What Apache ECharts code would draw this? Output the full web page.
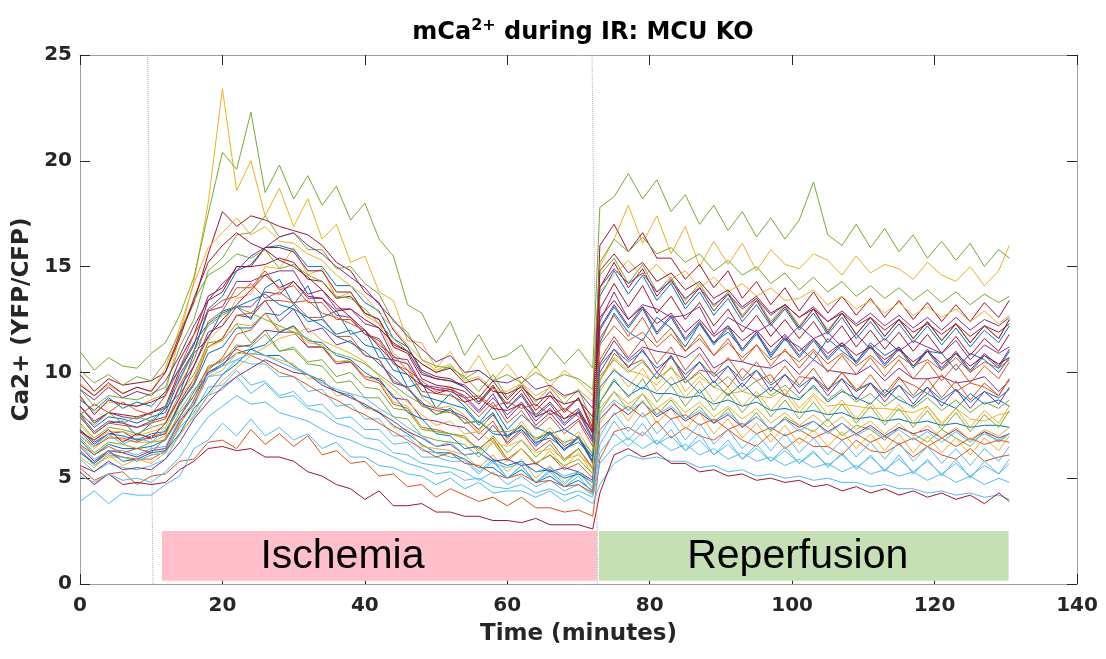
<!DOCTYPE html>
<html>
<head>
<meta charset="utf-8">
<script src="https://cdn.jsdelivr.net/npm/echarts@6/dist/echarts.min.js"></script>
<style>
html,body{margin:0;padding:0;background:#fff;}
#chart{width:1106px;height:659px;}
</style>
</head>
<body>
<div id="chart"></div>
<script>
// time points (minutes)
const time = [0,2,4,6,8,10,12,14,16,18,20,22,24,26,28,30,32,34,36,38,40,42,44,46,48,50,52,54,56,58,60,62,64,66,68,70,72,
  73,75,77,79,81,83,85,87,89,91,93,95,97,99,101,103,105,107,109,111,113,115,117,119,121,123,125,127,129,130.5];

const xTicks = [0,20,40,60,80,100,120,140];
const yTicks = [0,5,10,15,20,25];

// traces (Ca2+ YFP/CFP)
const trace01 = [7.9,7.1,7.6,7.7,7.0,7.6,8.3,9.0,10.9,11.6,12.9,13.1,12.5,14.0,14.4,13.2,14.1,12.6,12.9,11.8,12.0,10.7,10.6,9.3,9.5,8.3,9.0,8.4,7.6,8.4,7.3,8.0,7.4,7.1,7.3,6.9,6.0,
  11.4,12.8,11.9,11.5,12.6,12.1,11.2,12.3,11.4,11.9,11.1,11.9,10.7,11.6,11.2,10.6,11.6,11.0,10.5,11.4,10.8,11.2,10.3,11.0,10.9,10.1,10.9,10.6,10.0,10.7];
const trace02 = [5.5,4.9,5.2,5.3,4.7,5.1,5.2,5.8,5.9,6.7,6.8,6.4,7.3,6.6,7.1,6.5,7.0,6.1,6.3,5.7,5.8,5.1,5.2,4.6,4.7,4.1,4.5,4.2,3.9,4.1,3.7,4.1,3.6,3.6,3.4,3.5,3.2,
  5.9,7.2,7.4,7.0,7.7,6.9,7.4,7.0,6.8,7.3,6.8,6.5,7.1,6.4,6.9,6.5,6.5,6.1,6.8,6.3,6.2,6.6,6.0,6.5,6.1,5.9,6.4,5.8,6.0,6.1];
const trace03 = [8.8,8.1,8.6,8.5,8.4,8.7,9.0,11.8,14.3,18.0,23.4,18.6,20.0,17.4,18.7,16.9,18.2,16.3,17.0,15.2,15.5,13.8,13.4,11.5,11.4,10.2,11.0,9.8,10.8,9.6,10.4,9.5,10.3,9.3,10.1,9.6,8.9,
  15.0,16.3,17.9,16.1,17.4,15.6,16.9,15.0,16.2,15.1,16.1,14.8,15.8,15.1,14.9,15.6,15.3,14.6,15.5,14.7,15.1,14.9,14.4,15.2,14.6,14.3,15.0,14.1,14.8,16.0];
const trace04 = [7.3,6.7,7.1,7.2,6.8,6.9,7.1,8.6,9.7,11.2,11.6,12.7,12.6,13.4,12.4,13.0,11.9,12.1,11.3,11.5,10.8,10.6,9.5,9.3,8.5,8.3,8.2,7.9,7.3,8.0,7.0,7.5,6.8,7.2,6.5,6.9,5.7,
  10.4,11.5,10.6,11.2,11.0,10.9,10.7,11.2,10.2,10.6,10.5,10.3,10.2,10.6,9.9,10.6,10.1,10.0,9.9,10.3,9.6,10.2,9.7,9.7,9.8,9.5,9.6,9.8,9.1,9.6];
const trace05 = [11.0,10.1,10.7,10.3,10.2,10.9,11.4,12.7,14.5,17.5,20.4,19.6,22.3,18.5,19.8,18.2,19.3,17.9,18.8,17.2,18.0,16.3,15.5,13.2,12.8,11.4,12.4,10.8,11.8,10.6,10.8,11.3,10.2,11.2,10.4,11.1,10.2,
  17.8,18.3,19.4,18.2,19.1,17.6,18.4,17.0,17.9,16.7,17.6,16.4,17.3,16.3,17.2,19.0,16.5,16.0,17.0,15.9,16.8,15.7,16.5,15.4,16.2,15.3,16.1,15.0,15.8,15.4];
const trace06 = [3.9,4.4,3.8,4.3,4.2,4.2,4.7,5.1,6.4,6.8,7.6,7.0,7.8,7.0,7.4,6.8,7.1,6.4,6.7,6.0,6.0,5.6,5.5,5.2,5.1,4.7,5.0,4.5,4.8,4.3,4.4,4.4,4.1,4.4,3.9,4.2,3.8,
  4.7,5.7,6.1,5.9,6.0,5.8,5.8,5.5,5.6,5.3,5.4,5.1,5.2,5.0,5.1,4.9,5.0,4.8,4.8,4.6,4.7,4.5,4.5,4.3,4.4,4.2,4.3,4.1,4.2,4.0];
const trace07 = [5.3,4.7,5.2,4.7,4.8,4.7,4.8,5.4,5.8,6.4,6.5,6.3,6.4,6.0,6.0,5.8,5.3,5.1,4.7,4.5,4.0,4.4,3.7,3.7,3.8,3.4,3.4,3.2,3.2,3.0,3.0,2.9,3.1,2.8,2.8,2.8,2.6,
  4.3,6.1,6.4,6.0,6.2,5.7,5.7,5.3,5.4,5.1,5.2,4.9,5.0,4.8,4.9,4.6,4.7,4.4,4.6,4.3,4.5,4.2,4.4,4.1,4.3,4.0,4.2,3.8,4.3,3.9];
const trace08 = [6.8,6.1,6.6,6.4,6.4,6.5,6.8,7.9,8.9,10.0,10.4,10.9,11.1,10.8,10.8,10.3,9.9,9.6,9.1,8.9,8.4,8.1,7.5,7.1,6.6,6.2,6.2,5.9,5.5,5.5,5.0,5.4,4.8,5.1,4.6,4.9,4.4,
  8.6,9.6,8.9,9.3,9.0,9.0,8.8,8.9,8.5,8.7,8.4,8.6,8.2,8.3,8.1,8.2,8.0,8.1,7.8,7.9,7.7,7.8,7.6,7.7,7.5,7.6,7.4,7.5,7.5,7.4];
const trace09 = [6.3,5.7,6.2,6.0,5.9,5.9,6.3,7.5,8.7,10.1,10.7,11.8,12.0,12.8,11.9,12.2,11.2,11.2,10.5,10.5,9.7,9.5,8.5,8.3,7.4,7.3,7.1,6.9,6.4,6.9,5.9,6.4,5.7,6.1,5.4,5.7,5.0,
  9.6,10.9,10.3,10.6,9.7,10.8,9.5,10.1,10.0,9.3,10.2,9.6,9.9,8.9,9.8,9.7,9.1,10.0,9.2,9.5,8.8,9.7,9.4,9.0,9.9,9.1,9.5,9.3,8.9,9.7];
const trace10 = [7.0,6.4,7.0,6.8,6.7,6.7,7.0,8.4,9.5,11.5,12.2,13.5,13.7,15.0,14.9,15.9,14.6,14.9,13.5,13.8,12.7,12.3,10.9,10.4,8.8,8.3,8.4,8.0,7.2,8.1,6.8,7.7,6.8,7.4,6.6,7.2,6.1,
  9.6,10.7,10.1,9.9,9.4,10.3,9.1,9.8,9.3,9.0,9.1,8.9,8.8,9.2,8.3,9.0,8.4,8.5,8.4,8.3,8.3,8.2,8.1,8.4,7.6,8.3,7.8,7.7,8.0,8.1];
const trace11 = [8.4,7.7,8.1,7.9,7.8,8.1,8.3,9.9,11.0,12.9,13.1,14.3,14.3,14.6,14.8,14.8,13.7,13.9,13.0,13.0,12.3,12.1,10.7,10.6,9.4,9.3,9.2,8.9,8.2,9.0,7.8,8.5,7.5,8.1,7.3,7.8,6.7,
  12.4,13.8,12.5,13.2,13.0,12.6,12.7,13.1,11.8,12.6,12.2,11.9,12.3,11.5,12.2,11.6,11.9,11.2,11.8,11.1,11.6,11.0,11.5,11.2,10.9,11.5,10.6,11.3,10.9,11.2];
const trace12 = [7.6,6.9,7.4,7.3,7.1,7.4,7.6,9.0,9.9,11.4,11.5,12.3,11.4,12.0,11.0,11.1,10.4,10.3,9.5,9.6,8.8,8.8,7.9,7.8,7.0,6.8,6.7,6.6,6.0,6.7,5.8,6.4,5.7,6.1,5.6,5.9,5.2,
  8.1,9.1,8.2,9.0,8.0,8.7,7.8,8.4,7.6,8.3,7.4,8.1,7.2,7.9,7.5,7.2,7.8,7.0,7.5,7.3,6.8,7.4,7.1,6.7,7.3,6.9,6.5,7.2,6.7,7.1];
const trace13 = [5.9,5.3,5.7,5.5,5.4,5.6,5.9,7.1,7.9,8.9,9.2,9.8,9.0,9.5,8.8,8.9,8.3,8.1,7.6,7.4,6.9,6.8,6.2,6.1,5.7,5.6,5.5,5.3,4.9,5.3,4.7,5.1,4.6,4.9,4.4,4.7,4.2,
  6.2,7.1,6.5,7.2,6.6,7.0,6.3,6.8,6.1,6.6,5.9,6.4,5.8,6.3,5.7,6.2,5.6,6.1,5.5,6.0,5.4,5.9,5.3,5.8,5.2,5.7,5.1,5.6,5.2,5.7];
const trace14 = [9.9,9.1,9.7,9.4,9.5,9.6,10.0,11.8,13.3,15.6,17.6,16.9,17.4,17.2,16.9,16.7,16.5,16.0,15.2,14.8,13.8,13.3,12.0,11.2,10.1,9.8,9.7,9.3,8.6,9.4,8.3,9.0,8.0,8.6,7.8,8.3,7.1,
  16.0,17.0,15.7,16.6,15.4,15.4,14.4,15.1,14.0,14.8,13.5,14.3,13.2,14.0,12.9,13.8,12.8,13.6,12.7,13.5,12.6,13.4,12.5,13.3,12.4,13.2,12.4,13.3,12.6,13.4];
const trace15 = [8.1,7.4,7.9,7.8,7.6,7.9,8.1,9.7,11.0,13.0,13.6,14.8,15.1,15.9,16.0,15.8,15.0,15.0,14.1,14.1,13.3,12.9,11.6,11.2,10.0,9.7,9.6,9.3,8.6,9.3,8.3,8.9,7.9,8.5,7.6,8.2,6.9,
  13.6,14.8,13.7,14.6,13.4,14.2,13.0,13.8,12.7,13.5,12.4,13.2,12.2,13.0,12.0,12.8,11.8,12.6,11.6,12.4,11.5,12.3,11.4,12.2,11.3,12.1,11.2,12.0,11.4,12.2];
const trace16 = [7.2,6.5,6.9,6.9,6.7,7.0,7.1,8.5,9.5,11.2,11.6,12.7,12.8,13.4,13.4,13.3,12.6,12.6,11.7,11.7,10.8,10.6,9.6,9.3,8.4,8.2,8.1,7.8,7.1,7.7,6.6,7.2,6.3,6.8,5.9,6.4,5.5,
  10.6,11.7,10.7,11.6,10.4,11.2,10.1,10.9,9.9,10.7,9.7,10.5,9.5,10.3,9.4,10.2,9.2,10.0,9.1,9.9,9.0,9.8,8.9,9.7,8.8,9.6,8.7,9.5,8.9,9.7];
const trace17 = [6.3,5.6,6.0,6.0,5.8,6.1,6.2,7.6,8.4,9.8,10.1,10.9,10.9,10.8,10.6,10.4,9.7,9.7,8.9,9.0,8.3,8.2,7.4,7.3,6.5,6.4,6.3,6.1,5.5,6.1,5.3,5.9,5.0,5.6,4.8,5.3,4.6,
  7.6,8.6,7.7,8.7,7.6,8.3,7.3,8.1,7.1,7.8,6.9,7.6,6.7,7.5,6.6,7.3,6.5,7.2,6.4,7.1,6.3,7.1,6.2,7.0,6.2,6.9,6.1,6.9,6.3,7.0];
const trace18 = [6.5,5.8,6.3,6.2,6.0,6.3,6.4,7.7,8.5,10.0,10.3,11.2,11.3,12.0,11.9,11.9,11.2,11.2,10.4,10.5,9.8,9.7,8.8,8.7,7.8,7.7,7.5,7.4,6.8,7.5,6.7,7.3,6.5,7.1,6.3,7.0,5.8,
  10.0,11.1,10.2,11.1,10.0,10.8,9.7,10.5,9.5,10.3,9.3,10.1,9.1,9.9,9.0,9.8,8.9,9.7,8.7,9.5,8.6,9.4,8.5,9.3,8.4,9.2,8.3,9.1,8.5,9.3];
const trace19 = [9.2,8.4,8.9,8.8,8.7,9.0,9.3,11.2,12.5,14.8,15.4,16.5,16.6,17.4,16.4,16.6,15.8,15.8,14.9,15.0,14.2,13.7,12.4,11.9,10.6,10.3,10.2,9.8,9.1,9.9,8.8,9.5,8.6,9.3,8.5,9.2,7.6,
  14.6,15.4,14.2,15.1,13.8,14.5,13.4,14.2,13.1,13.8,12.7,13.5,12.4,13.2,12.2,13.0,12.0,12.8,11.8,12.6,11.7,12.5,11.6,12.4,11.5,12.3,11.4,12.2,11.6,12.5];
const trace20 = [6.6,5.9,6.3,6.3,6.1,6.4,6.5,7.8,8.6,9.8,9.9,10.6,10.4,10.4,9.8,9.8,9.1,9.2,8.4,8.5,7.8,7.8,7.0,7.0,6.3,6.2,6.0,5.9,5.3,5.9,5.0,5.6,4.8,5.3,4.6,5.1,4.3,
  7.0,8.1,7.2,8.1,7.1,7.8,6.8,7.6,6.6,7.3,6.4,7.1,6.3,7.1,6.2,6.9,6.1,6.8,6.0,6.7,5.9,6.7,5.8,6.5,5.7,6.4,5.6,6.4,5.8,6.5];
const trace21 = [8.9,8.0,8.7,8.5,8.4,8.6,8.9,10.6,11.8,13.6,14.0,15.0,15.0,15.1,15.4,15.2,14.4,14.3,13.5,13.6,12.8,12.5,11.3,11.0,9.9,9.7,9.6,9.4,8.8,9.6,8.7,9.4,8.4,9.1,8.2,8.8,7.4,
  13.0,14.2,13.1,14.1,12.8,13.6,12.5,13.3,12.2,13.0,11.9,12.7,11.7,12.5,11.6,12.4,11.4,12.2,11.2,12.0,11.1,11.9,11.0,11.8,10.9,11.7,10.8,11.6,11.0,11.8];
const trace22 = [7.3,6.6,7.1,7.0,6.8,7.1,7.2,8.5,9.4,10.9,11.2,12.1,12.1,12.8,12.7,13.2,12.4,12.5,11.8,12.0,11.3,11.1,10.1,9.9,8.9,8.7,8.5,8.3,7.5,8.1,6.9,7.5,6.6,7.2,6.3,6.9,5.8,
  12.0,13.1,12.1,13.0,11.8,12.6,11.5,12.3,11.3,12.1,11.0,11.8,10.8,11.6,10.7,11.5,10.6,11.3,10.4,11.2,10.3,11.1,10.2,11.0,10.1,10.9,10.0,10.8,10.2,11.0];
const trace23 = [7.9,7.1,7.6,7.5,7.4,7.6,7.8,9.4,10.6,12.4,12.9,14.0,14.0,14.8,13.9,14.1,13.3,13.3,12.5,12.5,11.8,11.5,10.4,10.1,9.1,9.0,8.9,8.6,7.9,8.6,7.6,8.2,7.3,7.9,7.1,7.7,6.5,
  11.6,12.7,11.7,12.6,11.4,12.1,11.0,11.8,10.8,11.6,10.5,11.3,10.3,11.1,10.2,11.0,10.0,10.8,9.9,10.7,9.8,10.6,9.7,10.5,9.6,10.4,9.5,10.3,9.7,10.5];
const trace24 = [7.5,6.8,7.2,7.2,7.0,7.2,7.4,8.8,9.7,11.2,11.5,12.3,12.2,12.8,12.0,12.1,11.4,11.3,10.5,10.6,9.8,9.6,8.6,8.4,7.4,7.2,7.1,6.9,6.2,6.8,5.8,6.4,5.6,6.3,5.5,6.2,5.2,
  9.1,10.2,9.3,10.2,9.1,9.8,8.8,9.6,8.6,9.3,8.4,9.1,8.2,9.0,8.1,8.9,8.0,8.7,7.8,8.6,7.7,8.5,7.6,8.4,7.5,8.3,7.4,8.2,7.6,8.4];
const trace25 = [8.0,7.2,7.7,7.6,7.4,7.7,7.9,9.3,10.3,11.9,12.2,13.1,13.1,13.8,13.7,14.3,13.5,13.5,12.7,12.6,11.8,11.6,10.6,10.4,9.4,9.2,9.1,8.8,8.1,8.8,8.0,8.6,7.7,8.3,7.5,8.1,6.8,
  12.1,13.2,12.2,13.1,11.9,12.7,11.6,12.4,11.4,12.2,11.1,11.9,10.9,11.7,10.8,11.6,10.7,11.4,10.5,11.3,10.4,11.2,10.3,11.1,10.2,11.0,10.1,10.9,10.3,11.1];
const trace26 = [6.9,6.2,6.7,6.6,6.4,6.7,6.8,8.1,8.9,10.3,10.5,11.3,11.2,11.8,11.0,11.2,10.5,10.6,9.8,10.0,9.3,9.2,8.3,8.2,7.3,7.2,7.1,7.0,6.3,7.0,6.2,6.8,6.0,6.6,5.8,6.4,5.4,
  8.6,9.7,8.8,9.7,8.6,9.4,8.4,9.2,8.2,9.0,8.1,8.9,7.9,8.7,7.8,8.6,7.7,8.5,7.6,8.4,7.5,8.3,7.4,8.2,7.3,8.1,7.2,8.0,7.4,8.2];
const trace27 = [6.3,5.6,6.1,6.0,5.8,6.1,6.2,7.4,8.1,9.3,9.4,10.1,9.4,9.6,8.9,9.1,8.4,8.5,7.8,7.9,7.3,7.3,6.6,6.7,6.0,6.0,5.8,5.8,5.2,5.8,5.0,5.6,4.8,5.4,4.7,5.3,4.5,
  6.6,7.7,6.8,7.6,6.6,7.3,6.3,7.1,6.1,6.8,5.9,6.6,5.8,6.5,5.7,6.3,5.5,6.2,5.4,6.1,5.3,6.1,5.2,5.9,5.1,5.9,5.0,5.8,5.2,5.9];
const trace28 = [8.4,7.6,8.1,8.0,7.9,8.1,8.4,10.1,11.3,13.4,13.8,15.0,15.0,15.9,15.9,15.7,14.8,14.8,13.8,13.8,12.8,12.5,11.2,10.9,9.7,9.4,9.3,9.1,8.5,9.3,8.5,9.2,8.2,8.9,8.1,8.8,7.2,
  14.0,15.2,14.0,14.9,13.6,14.4,13.2,14.0,12.9,13.7,12.6,13.4,12.3,13.1,12.1,13.0,11.9,12.8,11.8,12.6,11.7,12.5,11.6,12.4,11.5,12.3,11.4,12.2,11.6,12.5];
const trace29 = [6.2,5.7,6.3,5.8,5.9,6.2,6.3,7.1,8.3,9.0,9.9,10.4,11.1,11.3,11.9,12.2,11.5,11.4,10.8,10.6,10.0,9.6,8.9,8.1,7.8,7.1,7.0,6.4,6.5,5.9,5.6,5.8,5.3,5.4,5.0,5.2,4.8,
  9.3,10.1,9.6,9.2,10.0,9.4,9.7,9.0,9.6,8.9,9.5,8.8,9.3,8.9,8.7,9.4,8.6,9.1,8.8,8.5,9.2,8.7,8.4,9.0,8.6,8.3,9.0,8.5,8.7,8.4];
const trace30 = [8.0,8.5,8.1,8.6,8.2,8.0,8.9,10.2,11.8,12.9,13.4,13.6,14.2,13.5,13.8,13.3,13.4,12.8,12.6,12.3,12.0,11.3,10.8,10.1,9.6,9.1,9.3,8.8,8.9,8.4,8.6,8.3,8.5,8.0,8.3,7.9,7.4,
  11.3,12.2,11.5,11.9,11.2,11.8,11.0,11.6,10.8,11.4,10.7,11.3,10.6,11.0,10.5,11.1,10.4,10.9,10.3,10.8,10.2,10.8,10.3,10.6,10.1,10.7,10.0,10.5,10.2,10.6];
const trace31 = [9.5,8.9,9.4,9.0,9.3,9.1,10.2,12.1,14.2,15.9,16.6,17.3,16.5,16.9,16.2,16.1,15.6,15.3,14.6,14.1,13.6,12.8,12.1,11.3,10.6,10.1,10.4,9.6,9.8,9.2,9.1,9.5,8.9,9.3,8.8,9.2,8.6,
  13.8,14.6,15.3,14.5,15.1,14.4,14.8,14.0,14.5,13.8,14.2,13.6,14.0,13.4,13.5,13.9,13.2,13.6,13.0,13.4,12.8,13.3,12.7,13.1,12.6,13.0,12.4,12.9,12.3,12.7];
const trace32 = [5.6,5.3,5.8,5.4,5.5,5.4,5.9,6.7,7.8,8.6,9.3,9.8,10.2,10.6,10.3,10.0,9.9,9.4,9.1,8.8,8.5,8.1,7.7,7.2,6.9,6.5,6.6,6.1,6.2,5.8,5.9,5.6,5.7,5.3,5.5,5.3,4.9,
  7.8,8.5,8.0,8.6,7.9,8.3,7.7,8.1,7.6,8.0,7.4,7.9,7.3,7.8,7.4,7.7,7.2,7.6,7.1,7.5,7.0,7.4,7.1,7.3,6.9,7.3,6.8,7.2,6.9,7.1];
const trace33 = [10.1,9.5,9.9,9.4,9.8,9.6,10.5,11.9,13.4,14.6,15.0,15.6,15.4,15.8,14.9,15.1,14.6,14.3,13.6,13.5,13.0,12.3,11.6,11.0,10.4,10.0,10.3,9.7,10.1,9.6,9.9,9.5,10.0,9.6,9.9,9.7,9.2,
  15.2,16.3,15.7,16.4,15.6,15.9,15.2,15.6,14.8,15.3,14.6,15.0,14.2,14.7,13.9,14.5,13.8,14.3,13.6,14.1,13.5,14.0,13.4,13.9,13.3,13.8,13.2,13.7,13.3,13.6];
const trace34 = [5.1,4.8,5.2,4.9,5.0,4.8,5.3,6.0,7.0,7.9,8.4,8.9,8.5,8.6,8.1,7.9,7.7,7.3,7.0,6.8,6.5,6.3,6.0,5.7,5.5,5.2,5.3,4.9,5.0,4.6,4.5,4.7,4.3,4.5,4.2,4.4,4.1,
  5.7,6.5,6.9,6.4,6.8,6.3,6.6,6.1,6.4,5.9,6.2,5.8,6.0,5.6,5.9,5.5,5.7,5.3,5.6,5.2,5.4,5.1,5.3,4.9,5.2,4.8,5.1,4.7,5.0,4.8];
const trace35 = [7.2,6.8,7.3,6.7,7.1,6.9,7.6,8.8,10.3,11.7,12.5,13.2,13.9,14.6,14.0,14.3,13.6,13.5,12.9,13.0,12.5,12.1,11.4,11.0,10.4,10.0,10.2,9.5,9.7,9.1,9.0,9.3,8.7,8.9,8.5,8.7,7.9,
  12.6,13.4,12.5,13.1,12.3,12.8,11.9,12.5,11.7,12.2,11.5,12.0,11.2,11.8,11.0,11.6,10.9,11.4,10.8,11.2,10.6,11.1,10.5,11.0,10.4,10.9,10.3,10.8,10.4,10.7];
const trace36 = [8.7,8.2,8.8,8.3,8.6,8.4,9.1,10.2,11.4,12.3,12.8,13.1,13.4,13.7,13.2,13.0,12.6,12.2,11.7,11.4,11.0,10.4,9.8,9.2,8.6,8.0,8.3,7.6,7.7,7.1,7.0,7.3,6.7,6.9,6.4,6.7,6.0,
  10.3,11.1,10.5,11.0,10.2,10.7,9.9,10.5,9.8,10.3,9.6,10.1,9.4,9.9,9.3,9.8,9.2,9.7,9.1,9.5,8.9,9.4,8.8,9.3,8.7,9.2,8.6,9.1,8.8,9.2];
const trace37 = [6.6,6.1,6.5,6.2,6.4,6.2,6.9,7.9,9.1,10.2,10.6,11.1,10.8,10.5,10.0,9.8,9.4,9.0,8.7,8.3,8.0,7.6,7.2,6.8,6.4,6.0,6.2,5.7,5.6,5.2,5.0,5.2,4.8,4.9,4.6,4.7,4.3,
  7.3,8.0,8.4,7.9,8.3,7.8,8.0,7.5,7.8,7.3,7.6,7.1,7.4,7.0,7.3,6.9,7.2,6.8,7.1,6.7,7.0,6.6,6.9,6.5,6.9,6.5,6.9,6.6,6.8,6.7];
const trace38 = [6.0,5.5,6.1,5.6,5.9,5.7,6.2,7.0,8.0,8.9,9.6,10.2,10.8,11.2,11.6,11.8,12.1,11.5,11.2,10.9,10.5,9.8,9.2,8.6,8.0,7.5,7.7,7.1,7.2,6.7,6.5,6.8,6.2,6.4,5.9,6.1,5.5,
  8.3,9.1,8.5,9.0,8.3,8.8,8.1,8.6,7.9,8.4,7.8,8.3,7.6,8.1,7.5,8.0,7.4,7.9,7.3,7.7,7.1,7.6,7.0,7.5,6.9,7.4,6.8,7.3,7.0,7.4];
const trace39 = [9.2,8.7,9.3,8.8,9.1,8.9,9.6,10.8,12.2,13.4,14.2,14.8,15.5,15.9,16.4,16.6,16.0,15.6,15.0,14.5,14.0,13.2,12.5,11.7,11.1,10.5,10.8,10.0,10.1,9.6,9.5,9.8,9.2,9.4,8.9,9.1,8.3,
  14.0,14.9,14.2,14.7,13.8,14.3,13.5,14.0,13.2,13.7,13.0,13.5,12.7,13.2,12.6,13.1,12.4,12.9,12.3,12.8,12.2,12.7,12.1,12.6,12.0,12.6,12.0,12.5,12.2,12.6];
const trace40 = [8.0,7.5,8.1,7.6,7.9,7.7,8.4,9.6,11.0,12.2,12.7,13.1,12.8,12.5,12.2,11.9,11.6,11.2,10.9,10.7,10.4,9.9,9.4,8.9,8.5,8.0,8.2,7.6,7.7,7.2,7.2,7.4,6.9,7.1,6.7,6.9,6.2,
  9.8,10.6,10.0,10.5,9.7,10.2,9.5,10.0,9.3,9.8,9.1,9.6,8.9,9.4,8.8,9.3,8.7,9.2,8.6,9.0,8.4,8.9,8.3,8.8,8.2,8.7,8.1,8.6,8.3,8.7];
const trace41 = [7.0,6.5,7.1,6.6,6.9,6.7,7.3,8.2,9.2,9.9,10.3,10.6,10.9,10.8,10.5,10.2,9.9,9.5,9.2,9.0,8.8,8.3,7.9,7.4,7.0,6.5,6.7,6.1,6.2,5.7,5.5,5.7,5.3,5.5,5.1,5.3,4.8,
  8.0,8.7,8.2,8.6,8.0,8.4,7.8,8.2,7.7,8.1,7.5,7.9,7.3,7.8,7.2,7.7,7.1,7.6,7.0,7.4,6.9,7.3,6.8,7.2,6.7,7.2,6.7,7.1,6.8,7.1];
const trace42 = [9.4,8.9,9.5,9.0,9.3,9.1,10.0,11.6,13.5,15.2,16.0,16.6,16.1,15.8,15.3,15.0,14.5,13.9,13.2,12.6,12.0,11.2,10.5,9.9,9.4,9.0,9.2,8.6,8.8,8.3,8.2,8.5,7.9,8.2,7.8,8.1,7.2,
  14.8,15.6,14.7,15.2,14.3,14.7,13.9,14.3,13.5,13.9,13.1,13.6,12.8,13.2,12.6,13.0,12.4,12.8,12.2,12.6,12.0,12.5,11.9,12.3,11.8,12.3,11.7,12.2,11.9,12.3];

const traces = [trace01,trace02,trace03,trace04,trace05,trace06,trace07,trace08,trace09,trace10,
  trace11,trace12,trace13,trace14,trace15,trace16,trace17,trace18,trace19,trace20,
  trace21,trace22,trace23,trace24,trace25,trace26,trace27,trace28,trace29,trace30,
  trace31,trace32,trace33,trace34,trace35,trace36,trace37,trace38,trace39,trace40,
  trace41,trace42];

const phaseNames = ['Ischemia','Reperfusion'];

const palette = ['#0072BD','#D95319','#EDB120','#7E2F8E','#77AC30','#4DBEEE','#A2142F'];
const FONT = 'DejaVu Sans';
const TXT = '#262626';

const chart = echarts.init(document.getElementById('chart'), null, {renderer:'canvas'});

const series = traces.map((tr, k) => ({
  type: 'line',
  name: 'cell ' + (k + 1),
  xAxisIndex: 0, yAxisIndex: 0,
  data: time.map((t, i) => [t, tr[i]]),
  showSymbol: false,
  symbol: 'none',
  lineStyle: { width: 1, color: palette[k % palette.length] },
  itemStyle: { color: palette[k % palette.length] },
  silent: true,
  z: 2
}));

// dotted phase markers
series.unshift({
  type: 'line', data: [], xAxisIndex: 0, yAxisIndex: 0, silent: true, z: 1,
  markLine: {
    silent: true, symbol: ['none','none'], label: { show: false },
    lineStyle: { color: '#b3b3b3', type: 'dotted', width: 1 },
    data: [
      [{ coord: [9.5, 25] }, { coord: [10.25, 0] }],
      [{ coord: [71.9, 25] }, { coord: [72.7, 0] }]
    ]
  }
});

// phase boxes
series.push({
  type: 'line', data: [], xAxisIndex: 0, yAxisIndex: 0, silent: true, z: 5,
  markArea: {
    silent: true,
    data: [
      [{ name: phaseNames[0], xAxis: 11.5, yAxis: 2.5, itemStyle: { color: '#FFC0CB' },
         label: { offset: [-37, 1] } },
       { xAxis: 72.6, yAxis: 0.15 }],
      [{ name: phaseNames[1], xAxis: 72.85, yAxis: 2.5, itemStyle: { color: '#C5E0B4' },
         label: { offset: [-6, 1] } },
       { xAxis: 130.4, yAxis: 0.15 }]
    ],
    label: { show: true, position: 'inside', color: '#000', fontSize: 41,
             fontFamily: 'Liberation Sans', fontWeight: 'normal' }
  }
});

const axisLineStyle = { show: true, onZero: false, lineStyle: { color: '#a0a0a0', width: 1 } };
const tickStyle = { show: true, inside: true, length: 10, lineStyle: { color: TXT, width: 1 } };
const labelStyle = { fontSize: 20, fontWeight: 'bold', color: TXT, fontFamily: FONT };

chart.setOption({
  animation: false,
  backgroundColor: '#fff',
  title: {
    text: 'mCa{sup|2+} during IR: MCU KO',
    left: 578, top: 13, textAlign: 'center',
    textStyle: {
      fontSize: 24, fontWeight: 'bold', color: '#000', fontFamily: FONT,
      rich: {
        sup: { fontSize: 16, fontWeight: 'bold', color: '#000', fontFamily: FONT, padding: [0, 0, 13, 0] }
      }
    }
  },
  grid: { left: 80, right: 29, top: 55, bottom: 75, containLabel: false },
  xAxis: [
    { type: 'value', min: xTicks[0], max: xTicks[xTicks.length - 1], interval: 20, position: 'bottom',
      axisLine: axisLineStyle, axisTick: tickStyle, splitLine: { show: false },
      axisLabel: Object.assign({ margin: 12 }, labelStyle),
      name: 'Time (minutes)', nameLocation: 'middle', nameGap: 39,
      nameTextStyle: { fontSize: 23, fontWeight: 'bold', color: TXT, fontFamily: FONT } },
    { type: 'value', min: xTicks[0], max: xTicks[xTicks.length - 1], interval: 20, position: 'top',
      axisLine: axisLineStyle, axisTick: tickStyle, splitLine: { show: false },
      axisLabel: { show: false } }
  ],
  yAxis: [
    { type: 'value', min: yTicks[0], max: yTicks[yTicks.length - 1], interval: 5, position: 'left',
      axisLine: axisLineStyle, axisTick: tickStyle, splitLine: { show: false },
      axisLabel: Object.assign({ margin: 8 }, labelStyle),
      name: 'Ca2+ (YFP/CFP)', nameLocation: 'middle', nameGap: 40, nameRotate: 90,
      nameTextStyle: { fontSize: 23, fontWeight: 'bold', color: TXT, fontFamily: FONT } },
    { type: 'value', min: yTicks[0], max: yTicks[yTicks.length - 1], interval: 5, position: 'right',
      axisLine: axisLineStyle, axisTick: tickStyle, splitLine: { show: false },
      axisLabel: { show: false } }
  ],
  series: series
});
</script>
</body>
</html>
